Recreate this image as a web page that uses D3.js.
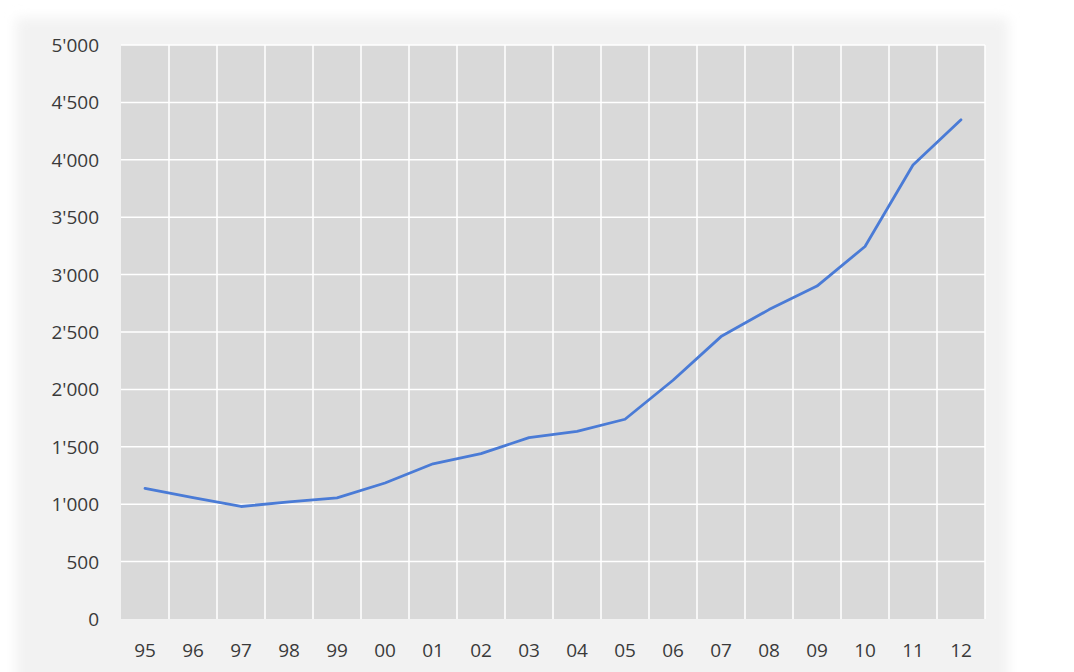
<!DOCTYPE html>
<html>
<head>
<meta charset="utf-8">
<script src="https://cdn.jsdelivr.net/npm/d3@7"></script>
<style>
  html, body { margin: 0; padding: 0; background: #ffffff; }
  svg { display: block; }
</style>
</head>
<body>
<svg id="chart" width="1074" height="672"></svg>
<script>
// Years (two-digit labels) and the yearly values of the series
const years = ["95","96","97","98","99","00","01","02","03","04","05","06","07","08","09","10","11","12"];
const values = [1137, 1058, 980, 1020, 1055, 1185, 1352, 1440, 1580, 1635, 1740, 2080, 2460, 2695, 2900, 3245, 3955, 4348];
const yTicks = [0, 500, 1000, 1500, 2000, 2500, 3000, 3500, 4000, 4500, 5000];

const W = 1074, H = 672;
const plot = { left: 121, right: 985, top: 45, bottom: 619 };

const svg = d3.select("#chart");

// soft frame behind the chart
const defs = svg.append("defs");
defs.append("filter").attr("id", "soft")
  .attr("x", "-5%").attr("y", "-5%").attr("width", "110%").attr("height", "110%")
  .append("feGaussianBlur").attr("stdDeviation", 6);

svg.append("rect")
  .attr("x", 16).attr("y", 18).attr("width", 992).attr("height", 700)
  .attr("fill", "#f2f2f2").attr("filter", "url(#soft)");

const x = d3.scaleBand().domain(years).range([plot.left, plot.right]).padding(0);
const y = d3.scaleLinear().domain([0, 5000]).range([plot.bottom, plot.top]);

// plot area
svg.append("rect")
  .attr("x", plot.left).attr("y", plot.top)
  .attr("width", plot.right - plot.left).attr("height", plot.bottom - plot.top)
  .attr("fill", "#d9d9d9");

// vertical gridlines at category boundaries
const bounds = years.slice(1).map(d => x(d)).concat([plot.right]);
svg.append("g").selectAll("line").data(bounds).join("line")
  .attr("x1", d => d).attr("x2", d => d)
  .attr("y1", plot.top).attr("y2", plot.bottom)
  .attr("stroke", "#ffffff").attr("stroke-width", 1.5);

// horizontal gridlines
svg.append("g").selectAll("line").data(yTicks.filter(d => d > 0)).join("line")
  .attr("x1", plot.left).attr("x2", plot.right)
  .attr("y1", d => y(d)).attr("y2", d => y(d))
  .attr("stroke", "#ffffff").attr("stroke-width", 1.5);

// y axis labels
const fmt = v => d3.format(",")(v).replace(/,/g, "'");
const yAxis = d3.axisLeft(y).tickValues(yTicks).tickFormat(fmt).tickSize(0).tickPadding(0);
const gy = svg.append("g").attr("transform", `translate(99,0)`).call(yAxis);
gy.select(".domain").remove();
gy.selectAll("text")
  .attr("font-family", "'Open Sans', sans-serif").attr("font-size", 19)
  .attr("fill", "#3a3a3a").attr("dy", "0.34em");

// x axis labels
const xAxis = d3.axisBottom(x).tickSize(0).tickPadding(0);
const gx = svg.append("g").attr("transform", `translate(0,643)`).call(xAxis);
gx.select(".domain").remove();
gx.selectAll("text")
  .attr("font-family", "'Open Sans', sans-serif").attr("font-size", 19)
  .attr("fill", "#3a3a3a").attr("dy", "0.71em");

// the series line
const line = d3.line()
  .x((d, i) => x(years[i]) + x.bandwidth() / 2)
  .y(d => y(d));

svg.append("path")
  .datum(values)
  .attr("d", line)
  .attr("fill", "none")
  .attr("stroke", "#4a7bd6")
  .attr("stroke-width", 2.8)
  .attr("stroke-linejoin", "round")
  .attr("stroke-linecap", "round");
</script>
</body>
</html>
